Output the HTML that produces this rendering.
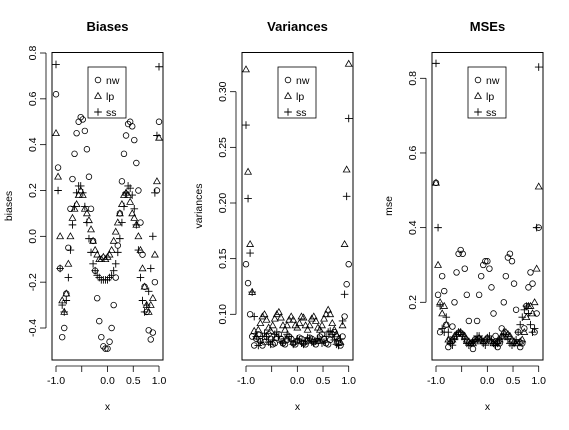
<!DOCTYPE html>
<html><head><meta charset="utf-8"><style>
body{margin:0;background:#fff;font-family:"Liberation Sans",sans-serif}
svg text{font-family:"Liberation Sans",sans-serif}
</style></head><body>
<svg id="chart" width="569" height="425" viewBox="0 0 569 425"></svg>
<script>
const xs=[-1,-0.96,-0.92,-0.88,-0.84,-0.8,-0.76,-0.72,-0.68,-0.64,-0.6,-0.56,-0.52,-0.48,-0.44,-0.4,-0.36,-0.32,-0.28,-0.24,-0.2,-0.16,-0.12,-0.08,-0.04,0,0.04,0.08,0.12,0.16,0.2,0.24,0.28,0.32,0.36,0.4,0.44,0.48,0.52,0.56,0.6,0.64,0.68,0.72,0.76,0.8,0.84,0.88,0.92,0.96,1];
const biasNw=[0.62,0.30,-0.14,-0.44,-0.40,-0.25,-0.05,0.12,0.25,0.36,0.45,0.50,0.52,0.51,0.46,0.38,0.26,0.12,-0.02,-0.15,-0.27,-0.37,-0.44,-0.48,-0.49,-0.49,-0.46,-0.40,-0.30,-0.18,-0.04,0.10,0.24,0.36,0.44,0.49,0.50,0.48,0.42,0.32,0.20,0.06,-0.08,-0.22,-0.33,-0.41,-0.45,-0.42,-0.20,0.20,0.50];
const biasLp=[0.45,0.26,0.0,-0.28,-0.33,-0.25,-0.12,0.0,0.08,0.12,0.14,0.18,0.2,0.18,0.12,0.1,0.07,0.03,-0.02,-0.06,-0.08,-0.1,-0.1,-0.09,-0.1,-0.09,-0.08,-0.06,-0.02,0.02,0.06,0.1,0.14,0.18,0.19,0.18,0.15,0.1,0.08,0.05,0.0,-0.06,-0.14,-0.22,-0.3,-0.33,-0.3,-0.27,-0.08,0.24,0.43];
const biasSs=[0.75,0.2,-0.14,-0.3,-0.33,-0.28,-0.18,-0.06,0.05,0.13,0.19,0.22,0.22,0.19,0.13,0.06,-0.01,-0.07,-0.12,-0.15,-0.17,-0.18,-0.19,-0.19,-0.19,-0.19,-0.18,-0.17,-0.15,-0.12,-0.07,-0.01,0.06,0.13,0.19,0.22,0.21,0.18,0.12,0.05,-0.06,-0.18,-0.28,-0.33,-0.3,-0.24,-0.14,0.0,0.19,0.44,0.74];
const varNw=[0.145,0.128,0.1,0.08,0.072,0.078,0.082,0.076,0.072,0.075,0.08,0.082,0.078,0.073,0.074,0.079,0.082,0.078,0.074,0.073,0.077,0.08,0.078,0.074,0.073,0.076,0.079,0.078,0.074,0.073,0.076,0.079,0.078,0.075,0.073,0.076,0.08,0.082,0.078,0.074,0.073,0.077,0.082,0.084,0.08,0.074,0.072,0.08,0.098,0.127,0.145];
const varLp=[0.32,0.228,0.163,0.12,0.085,0.08,0.086,0.092,0.098,0.1,0.095,0.088,0.085,0.09,0.096,0.1,0.102,0.097,0.09,0.086,0.09,0.095,0.098,0.095,0.09,0.088,0.092,0.098,0.097,0.09,0.086,0.09,0.096,0.098,0.094,0.088,0.086,0.09,0.096,0.1,0.104,0.1,0.092,0.086,0.082,0.078,0.075,0.09,0.163,0.23,0.325];
const varSs=[0.27,0.204,0.155,0.12,0.098,0.08,0.072,0.075,0.08,0.083,0.08,0.075,0.073,0.077,0.082,0.084,0.08,0.075,0.074,0.078,0.082,0.08,0.076,0.073,0.075,0.078,0.077,0.074,0.073,0.076,0.079,0.078,0.075,0.074,0.076,0.078,0.077,0.074,0.075,0.08,0.084,0.085,0.082,0.077,0.073,0.072,0.078,0.094,0.118,0.206,0.276];
const mseNw=[0.52,0.22,0.12,0.27,0.23,0.14,0.08,0.1,0.135,0.2,0.28,0.33,0.34,0.33,0.29,0.22,0.15,0.09,0.075,0.1,0.15,0.22,0.27,0.3,0.31,0.31,0.29,0.24,0.17,0.11,0.08,0.09,0.13,0.2,0.27,0.32,0.33,0.31,0.25,0.18,0.12,0.08,0.09,0.13,0.19,0.24,0.28,0.25,0.12,0.17,0.4];
const mseLp=[0.52,0.3,0.2,0.17,0.19,0.14,0.1,0.095,0.1,0.11,0.115,0.12,0.12,0.115,0.11,0.1,0.095,0.09,0.09,0.095,0.1,0.105,0.1,0.095,0.1,0.105,0.1,0.095,0.09,0.09,0.095,0.1,0.11,0.12,0.12,0.115,0.11,0.1,0.095,0.09,0.09,0.095,0.1,0.12,0.16,0.19,0.19,0.17,0.2,0.29,0.51];
const mseSs=[0.84,0.4,0.19,0.13,0.12,0.16,0.12,0.09,0.085,0.1,0.11,0.12,0.12,0.11,0.1,0.09,0.085,0.09,0.095,0.1,0.11,0.11,0.1,0.09,0.085,0.1,0.11,0.1,0.09,0.085,0.09,0.1,0.11,0.115,0.11,0.1,0.09,0.085,0.09,0.1,0.12,0.14,0.16,0.18,0.19,0.17,0.14,0.12,0.13,0.4,0.83];
const xTicks=[-1,-0.5,0,0.5,1];
const xTickLabels=["-1.0","","0.0","0.5","1.0"];
const yTicks1=[-0.4,-0.2,0,0.2,0.4,0.6,0.8];
const yTickLabels1=["-0.4","-0.2","0.0","0.2","0.4","0.6","0.8"];
const yTicks2=[0.10,0.15,0.20,0.25,0.30];
const yTickLabels2=["0.10","0.15","0.20","0.25","0.30"];
const yTicks3=[0.2,0.4,0.6,0.8];
const yTickLabels3=["0.2","0.4","0.6","0.8"];
const legendLabels=["nw","lp","ss"];

const NS="http://www.w3.org/2000/svg";
const svg=document.getElementById('chart');
function mk(tag,attrs,parent){const e=document.createElementNS(NS,tag);for(const k in attrs)e.setAttribute(k,attrs[k]);(parent||svg).appendChild(e);return e;}
function sym(g,type,x,y){
  let e;
  if(type===0){e=mk('circle',{cx:x,cy:y,r:2.8,fill:'none',stroke:'#000','stroke-width':0.8},g);}
  else if(type===1){e=mk('path',{d:`M${x-3.3},${y+2.4}L${x+3.3},${y+2.4}L${x},${y-3.4}Z`,fill:'none',stroke:'#000','stroke-width':0.8},g);}
  else {e=mk('path',{d:`M${x-3.8},${y}H${x+3.8}M${x},${y-3.8}V${y+3.8}`,fill:'none',stroke:'#000','stroke-width':0.9},g);}
  return e;
}
function panel(p){
  const g=mk('g',{});
  
  
  const sx=v=>p.xa+(v+1)/2*(p.xb-p.xa);
  const sy=v=>p.y0+(v-p.v0)/(p.v1-p.v0)*(p.y1-p.y0);
  const box=mk('rect',{x:p.bx0,y:52.5,width:p.bx1-p.bx0,height:307.5,fill:'none',stroke:'#000','stroke-width':1},g);
  
  const t=mk('text',{x:(p.bx0+p.bx1)/2,y:31,'text-anchor':'middle','font-size':13,'font-weight':'bold'},g);t.textContent=p.title;
  
  // x axis
  const xax=mk('g',{},g);
  mk('line',{x1:sx(xTicks[0]),x2:sx(xTicks[xTicks.length-1]),y1:366,y2:366,stroke:'#000','stroke-width':0.8},xax);
  xTicks.forEach((v,i)=>{mk('line',{x1:sx(v),x2:sx(v),y1:366,y2:372,stroke:'#000','stroke-width':0.8},xax);
    if(xTickLabels[i]){const tl=mk('text',{x:sx(v),y:384,'text-anchor':'middle','font-size':10.5},xax);tl.textContent=xTickLabels[i];}});
  const xl=mk('text',{x:(p.bx0+p.bx1)/2,y:410,'text-anchor':'middle','font-size':10.5},g);xl.textContent='x';
  
  // y axis
  const yax=mk('g',{},g);
  const ax=p.bx0-6;
  mk('line',{x1:ax,x2:ax,y1:sy(p.yt[0]),y2:sy(p.yt[p.yt.length-1]),stroke:'#000','stroke-width':0.8},yax);
  p.yt.forEach((v,i)=>{mk('line',{x1:ax-6,x2:ax,y1:sy(v),y2:sy(v),stroke:'#000','stroke-width':0.8},yax);
    const tl=mk('text',{x:ax-10,y:sy(v),'text-anchor':'middle','font-size':10.5,transform:`rotate(-90 ${ax-10} ${sy(v)})`},yax);tl.textContent=p.ytl[i];});
  const yl=mk('text',{x:p.bx0-40,y:206,'text-anchor':'middle','font-size':10.5,transform:`rotate(-90 ${p.bx0-40} 206)`},g);yl.textContent=p.ylab;
  
  // series
  p.series.forEach((s,k)=>{const sg=mk('g',{},g);
    s.forEach((v,i)=>{const e=sym(sg,k,sx(xs[i]),sy(v));});});
  // legend
  const lg=mk('g',{},g);
  mk('rect',{x:p.lx,y:67,width:38,height:51,fill:'#fff',stroke:'#000','stroke-width':0.8},lg);
  legendLabels.forEach((l,i)=>{const yy=80+i*16;sym(lg,i,p.lx+10,yy);
    const tl=mk('text',{x:p.lx+18,y:yy+4,'font-size':10.5},lg);tl.textContent=l;
    });
}
panel({name:'biases',title:'Biases',ylab:'biases',bx0:52,bx1:163,xa:56,xb:159,v0:0.8,v1:-0.4,y0:53,y1:328,yt:yTicks1,ytl:yTickLabels1,series:[biasNw,biasLp,biasSs],lx:88});
panel({name:'variances',title:'Variances',ylab:'variances',bx0:242,bx1:353,xa:246,xb:348.7,v0:0.30,v1:0.10,y0:91.7,y1:314.3,yt:yTicks2,ytl:yTickLabels2,series:[varNw,varLp,varSs],lx:278});
panel({name:'mses',title:'MSEs',ylab:'mse',bx0:432,bx1:543,xa:436,xb:538.7,v0:0.8,v1:0.2,y0:78.3,y1:302.3,yt:yTicks3,ytl:yTickLabels3,series:[mseNw,mseLp,mseSs],lx:468});
</script>
</body></html>
